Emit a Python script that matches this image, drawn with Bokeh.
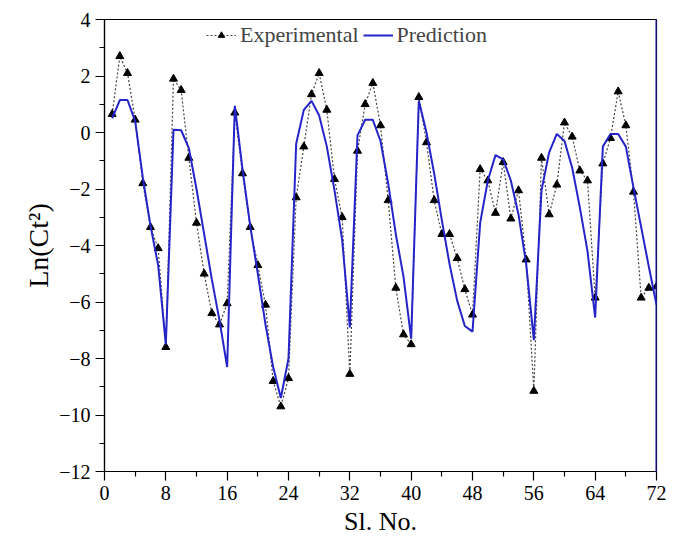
from bokeh.plotting import figure
from bokeh.models import Range1d, FixedTicker, Legend, LegendItem, Span
from bokeh.embed import file_html
from bokeh.resources import INLINE

sl_no = list(range(1, 73))
experimental = [0.65, 2.7, 2.1, 0.45, -1.8, -3.35, -4.1, -7.6, 1.9, 1.5,
                -0.9, -3.2, -5.0, -6.4, -6.8, -6.05, 0.7, -1.45, -3.35, -4.7,
                -6.1, -8.8, -9.7, -8.7, -2.3, -0.5, 1.35, 2.1, 0.8, -1.65,
                -3.0, -8.55, -0.65, 1.0, 1.75, 0.25, -2.4, -5.5, -7.15, -7.5,
                1.25, -0.35, -2.4, -3.6, -3.6, -4.45, -5.55, -6.45, -1.3, -1.7,
                -2.85, -1.05, -3.05, -2.05, -4.5, -9.15, -0.9, -2.9, -1.85, 0.35,
                -0.15, -1.35, -1.7, -5.85, -1.1, -0.2, 1.45, 0.25, -2.1, -5.85,
                -5.5, -5.45]
prediction = [0.5, 1.15, 1.15, 0.4, -1.6, -3.3, -4.7, -7.5, 0.1, 0.08,
              -0.55, -2.0, -3.6, -5.2, -6.65, -8.3, 0.95, -1.3, -3.3, -5.0,
              -6.8, -8.3, -9.4, -8.0, -0.4, 0.8, 1.12, 0.6, -0.5, -2.05,
              -3.8, -6.9, -0.1, 0.45, 0.45, -0.3, -1.8, -3.6, -5.1, -7.3,
              1.12, 0.0, -1.45, -3.1, -4.65, -5.95, -6.85, -7.05, -3.2, -1.7,
              -0.8, -0.95, -1.7, -2.9, -4.65, -7.35, -2.05, -0.7, -0.05, -0.3,
              -1.25, -2.65, -4.2, -6.55, -0.5, -0.05, -0.05, -0.5, -1.95, -3.35,
              -4.75, -6.1]
x_ticks = [0, 8, 16, 24, 32, 40, 48, 56, 64, 72]
y_ticks = [-12, -10, -8, -6, -4, -2, 0, 2, 4]

SERIF = "Liberation Serif"
BLUE = "#2424c8"

p = figure(width=670, height=533, output_backend="svg", toolbar_location=None,
           x_range=Range1d(0, 72), y_range=Range1d(-12, 4))
p.frame_width = 552
p.frame_height = 452
p.min_border_left = 104
p.min_border_right = 14
p.min_border_top = 19
p.min_border_bottom = 62

p.xgrid.visible = False
p.ygrid.visible = False
p.outline_line_color = "black"
p.outline_line_width = 1.2
p.background_fill_color = "white"

for ax in (p.xaxis[0], p.yaxis[0]):
    ax.major_tick_out = 9
    ax.major_tick_in = 0
    ax.minor_tick_out = 5
    ax.minor_tick_in = 0
    ax.axis_line_color = "black"
    ax.axis_line_width = 1.2
    ax.major_tick_line_color = "black"
    ax.major_tick_line_width = 1.2
    ax.minor_tick_line_color = "black"
    ax.minor_tick_line_width = 1.2
    ax.major_label_text_font = SERIF
    ax.major_label_text_font_size = "20px"
    ax.major_label_text_color = "black"
    ax.axis_label_text_font = SERIF
    ax.axis_label_text_font_size = "26px"
    ax.axis_label_text_font_style = "normal"
    ax.axis_label_text_color = "black"

p.xaxis.ticker = FixedTicker(ticks=x_ticks, minor_ticks=[4, 12, 20, 28, 36, 44, 52, 60, 68])
p.yaxis.ticker = FixedTicker(ticks=y_ticks, minor_ticks=[-11, -9, -7, -5, -3, -1, 1, 3])
p.xaxis.axis_label = "Sl. No."
p.yaxis.axis_label = "Ln(Ct²)"
p.yaxis.axis_label_text_font_size = "28px"
p.yaxis.major_label_standoff = 5
p.xaxis.major_label_standoff = 5
p.yaxis.axis_label_standoff = 2
p.xaxis.axis_label_standoff = 4

exp_line = p.line(sl_no, experimental, line_color="#444444", line_width=1.2, line_dash="2 2")
exp_pts = p.scatter(sl_no, experimental, marker="triangle", size=8,
                    fill_color="black", line_color="black")
pred_line = p.line(sl_no, prediction, line_color=BLUE, line_width=2)

p.add_layout(Span(location=72, dimension="height", line_color=BLUE, line_width=2))

legend = Legend(items=[LegendItem(label="Experimental", renderers=[exp_line, exp_pts]),
                       LegendItem(label="Prediction", renderers=[pred_line])],
                orientation="horizontal", location=(100, 421),
                label_text_font=SERIF, label_text_font_size="22px",
                glyph_width=30, glyph_height=16, spacing=4, label_standoff=4,
                padding=2, margin=0,
                border_line_alpha=0, background_fill_alpha=0)
p.add_layout(legend)

open("out.html", "w").write(file_html(p, INLINE))
